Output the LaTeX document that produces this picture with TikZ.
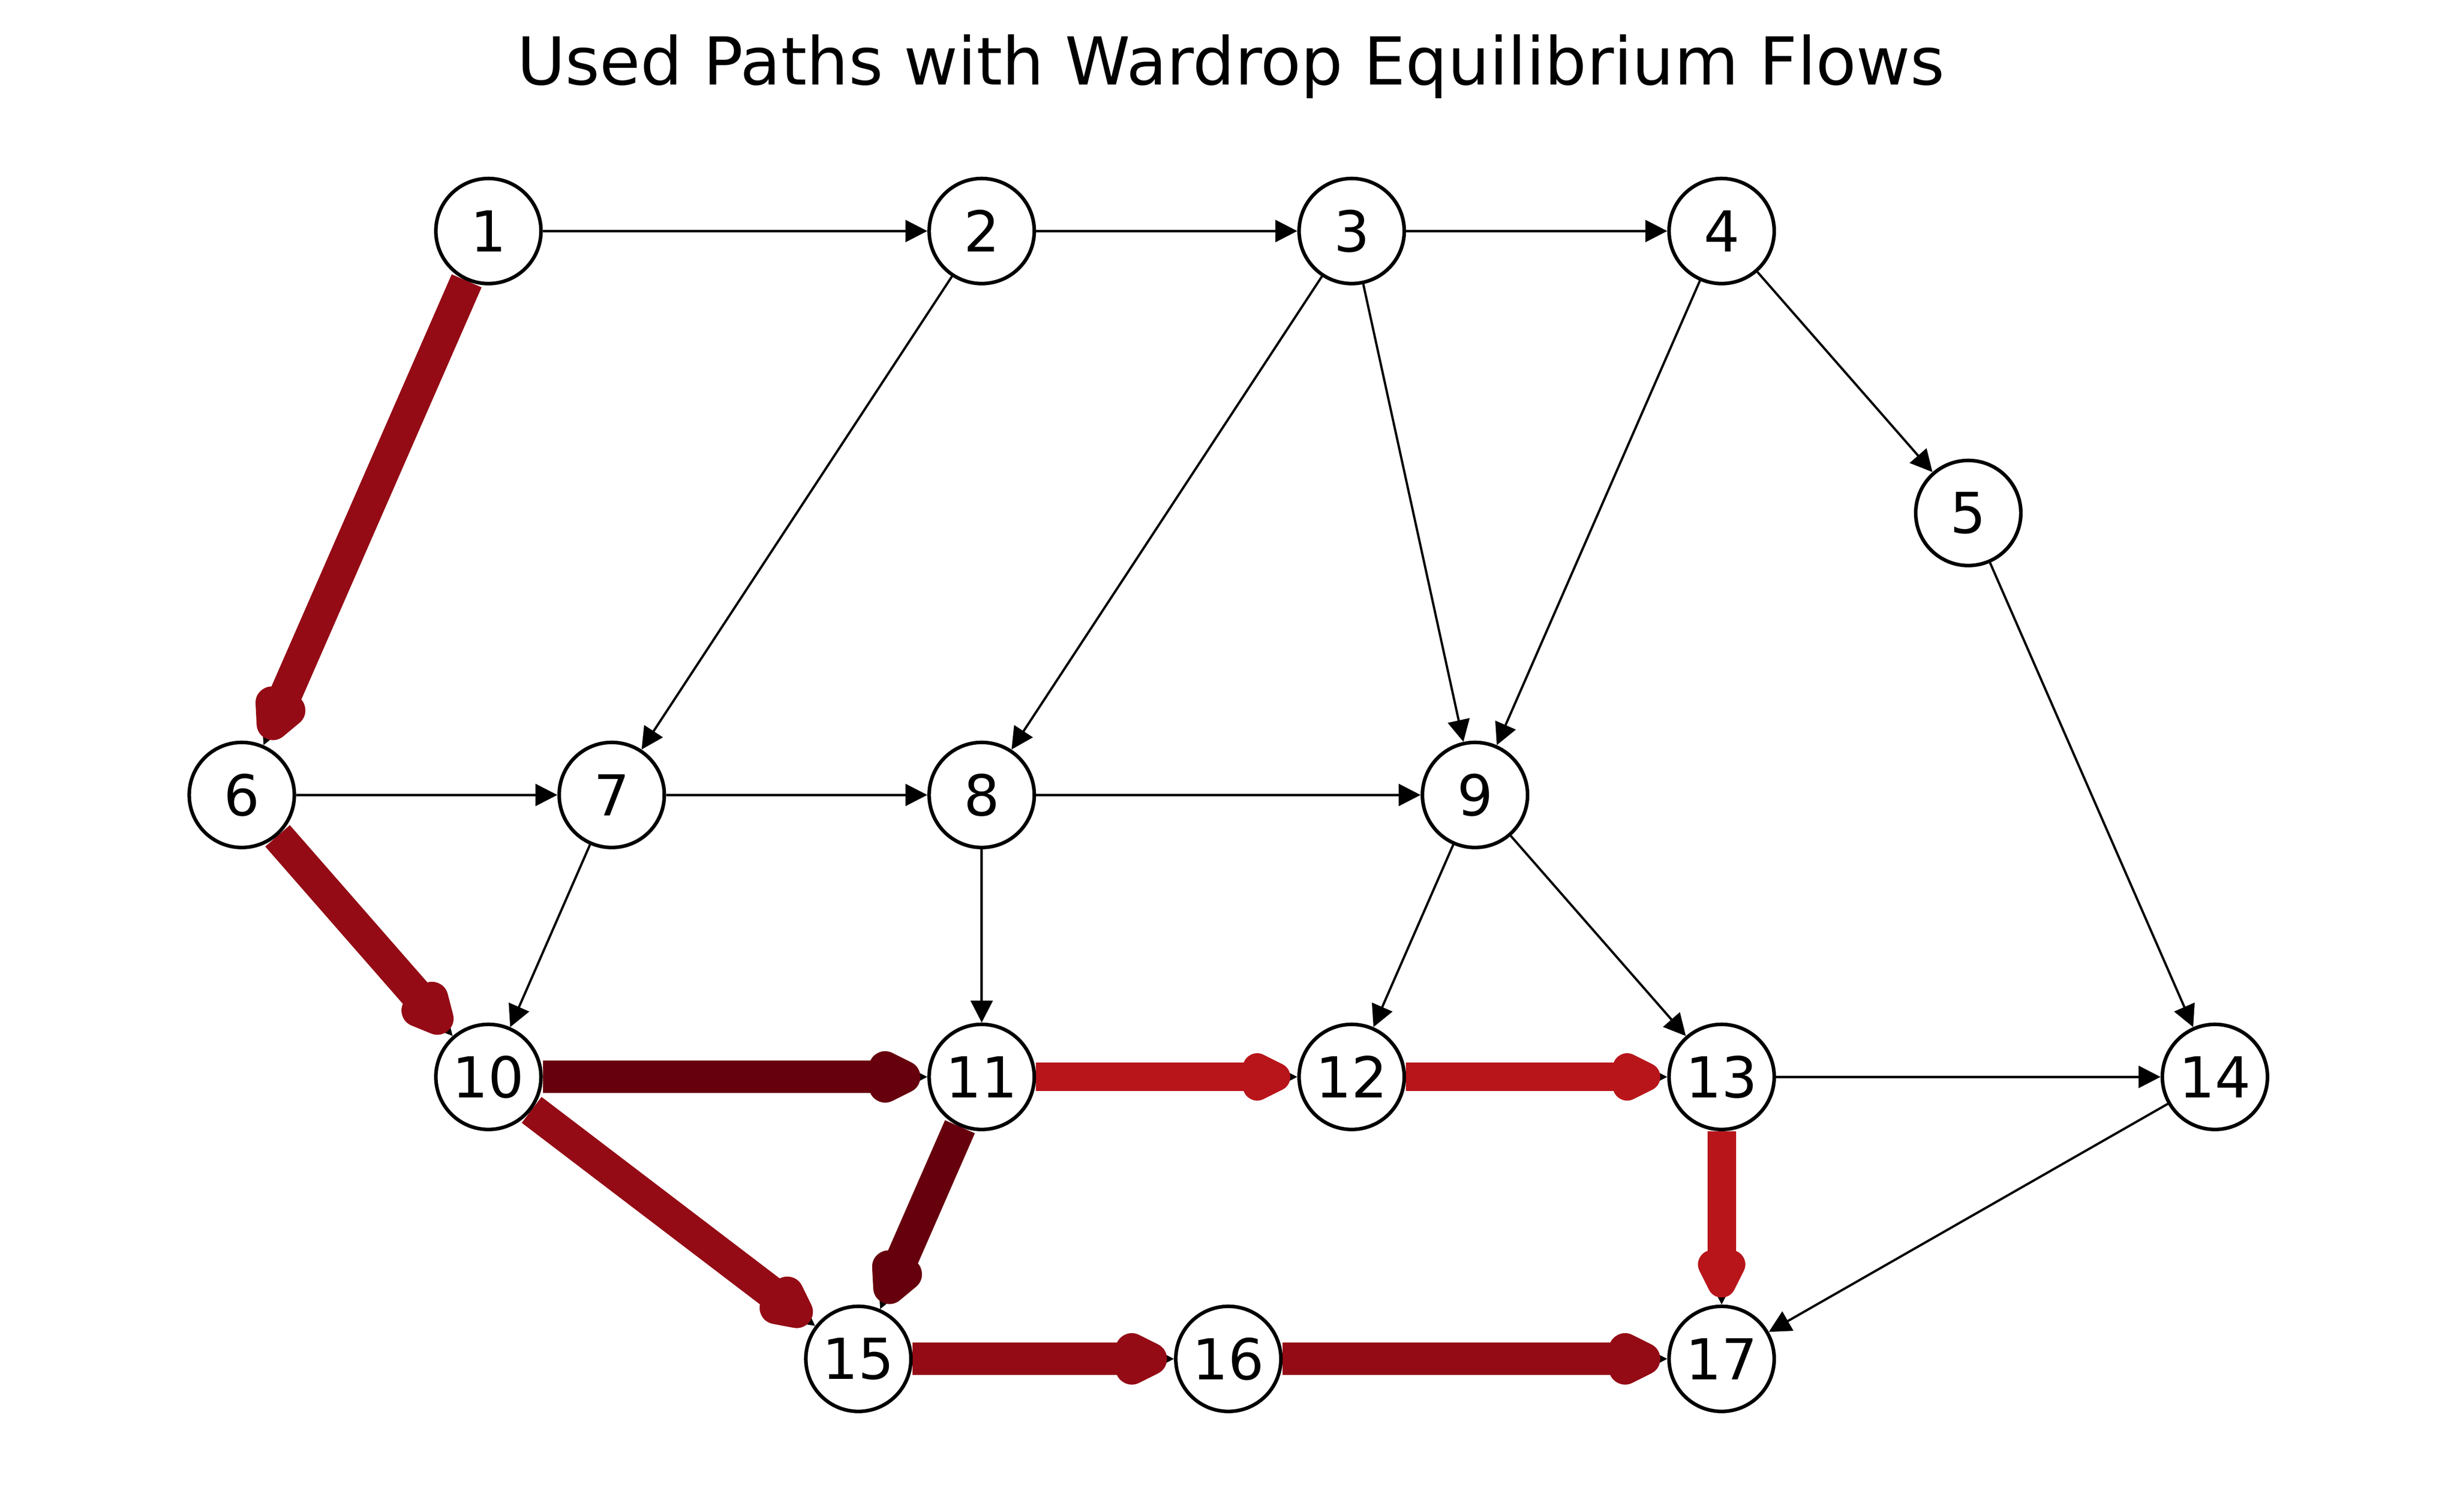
\documentclass[tikz,border=0pt]{standalone}
\usepackage{fontspec}
\newfontfamily\dejavu{DejaVu Sans}
\usetikzlibrary{positioning,arrows.meta}

\definecolor{flowdark}{HTML}{67000D}
\definecolor{flowmid}{HTML}{940B15}
\definecolor{flowlight}{HTML}{B8151B}

\pgfdeclarelayer{edges}
\pgfsetlayers{edges,main}

% small triangle stroked with the full line width and round joins
\makeatletter
\pgfdeclarearrow{
  name = FlowHead,
  parameters = {\the\pgfarrowlength,\the\pgfarrowwidth,\the\pgfarrowlinewidth},
  setup code = {
    \pgfarrowssetbackend{-.5\pgfarrowlinewidth}
    \pgfarrowssetlineend{0pt}
    \pgf@xa=\pgfarrowlength
    \advance\pgf@xa by .5\pgfarrowlinewidth
    \pgfarrowssettipend{\pgf@xa}
    \pgfarrowssavethe\pgfarrowlength
    \pgfarrowssavethe\pgfarrowwidth
    \pgfarrowssavethe\pgfarrowlinewidth
  },
  drawing code = {
    \pgfsetroundjoin
    \pgfsetlinewidth{\pgfarrowlinewidth}
    \pgfpathmoveto{\pgfqpoint{\pgfarrowlength}{0pt}}
    \pgfpathlineto{\pgfqpoint{0pt}{.5\pgfarrowwidth}}
    \pgfpathlineto{\pgfqpoint{0pt}{-.5\pgfarrowwidth}}
    \pgfpathclose
    \pgfusepathqfillstroke
  },
  defaults = {length = 0.12cm, width = 0.12cm, line width = 0pt 1}
}
\makeatother

\begin{document}
\begin{tikzpicture}[
    node distance = 1.8cm and 2.361cm, on grid,
    vtx/.style = {circle, draw, line width=0.65pt, fill=white, minimum size=0.671cm,
                  inner sep=0pt, font=\dejavu\fontsize{10.25}{12}\selectfont},
    road/.style = {line width=0.415pt, -{Triangle[length=0.14cm, width=0.14cm]}},
    used/.style = {line width=0.208cm, -{FlowHead[]}, shorten >=0.045cm},
    usedthin/.style = {used, line width=0.182cm},
  ]
    % top rows
    \node[vtx] (n1) {1};
    \node[vtx, right = 3.148cm of n1] (n2) {2};
    \node[vtx, right = of n2] (n3) {3};
    \node[vtx, right = of n3] (n4) {4};
    \node[vtx, below right = 1.8cm and 1.574cm of n4] (n5) {5};

    \node[vtx, below left = 3.6cm and 1.574cm of n1] (n6) {6};
    \node[vtx, right = of n6] (n7) {7};
    \node[vtx, right = of n7] (n8) {8};
    \node[vtx, right = 3.148cm of n8] (n9) {9};

    % bottom rows
    \node[vtx, below right = 1.8cm and 1.574cm of n6] (n10) {10};
    \node[vtx, below = of n8] (n11) {11};
    \node[vtx, right = of n11] (n12) {12};
    \node[vtx, right = of n12] (n13) {13};
    \node[vtx, right = 3.148cm of n13] (n14) {14};

    \node[vtx, below left = 1.8cm and 0.787cm of n11] (n15) {15};
    \node[vtx, right = of n15] (n16) {16};
    \node[vtx, below = of n13] (n17) {17};

    \node[anchor=base, font=\dejavu\fontsize{12}{14}\selectfont]
      (title) at ([xshift=4.738cm, yshift=0.935cm]n1.center)
      {Used Paths with Wardrop Equilibrium Flows};

    \useasboundingbox ([xshift=-3.117cm, yshift=1.475cm]n1.center) rectangle ++(15.68cm,-9.651cm);

    \begin{pgfonlayer}{edges}
      \draw[road]
        (n1) edge (n2) edge (n6)
        (n2) edge (n3) edge (n7)
        (n3) edge (n4) edge (n8) edge (n9)
        (n4) edge (n5) edge (n9)
        (n5) edge (n14)
        (n6) edge (n7) edge (n10)
        (n7) edge (n8) edge (n10)
        (n8) edge (n9) edge (n11)
        (n9) edge (n12) edge (n13)
        (n10) edge (n11) edge (n15)
        (n11) edge (n12) edge (n15)
        (n12) edge (n13)
        (n13) edge (n14) edge (n17)
        (n14) edge (n17)
        (n15) edge (n16)
        (n16) edge (n17);

      % equilibrium flows
      \draw[used, flowmid]
        (n1) edge (n6)
        (n6) edge (n10)
        (n10) edge (n15)
        (n15) edge (n16)
        (n16) edge (n17);
      \draw[used, flowdark]
        (n10) edge (n11)
        (n11) edge (n15);
      \draw[usedthin, flowlight]
        (n11) edge (n12)
        (n12) edge (n13)
        (n13) edge (n17);
    \end{pgfonlayer}
\end{tikzpicture}
\end{document}
